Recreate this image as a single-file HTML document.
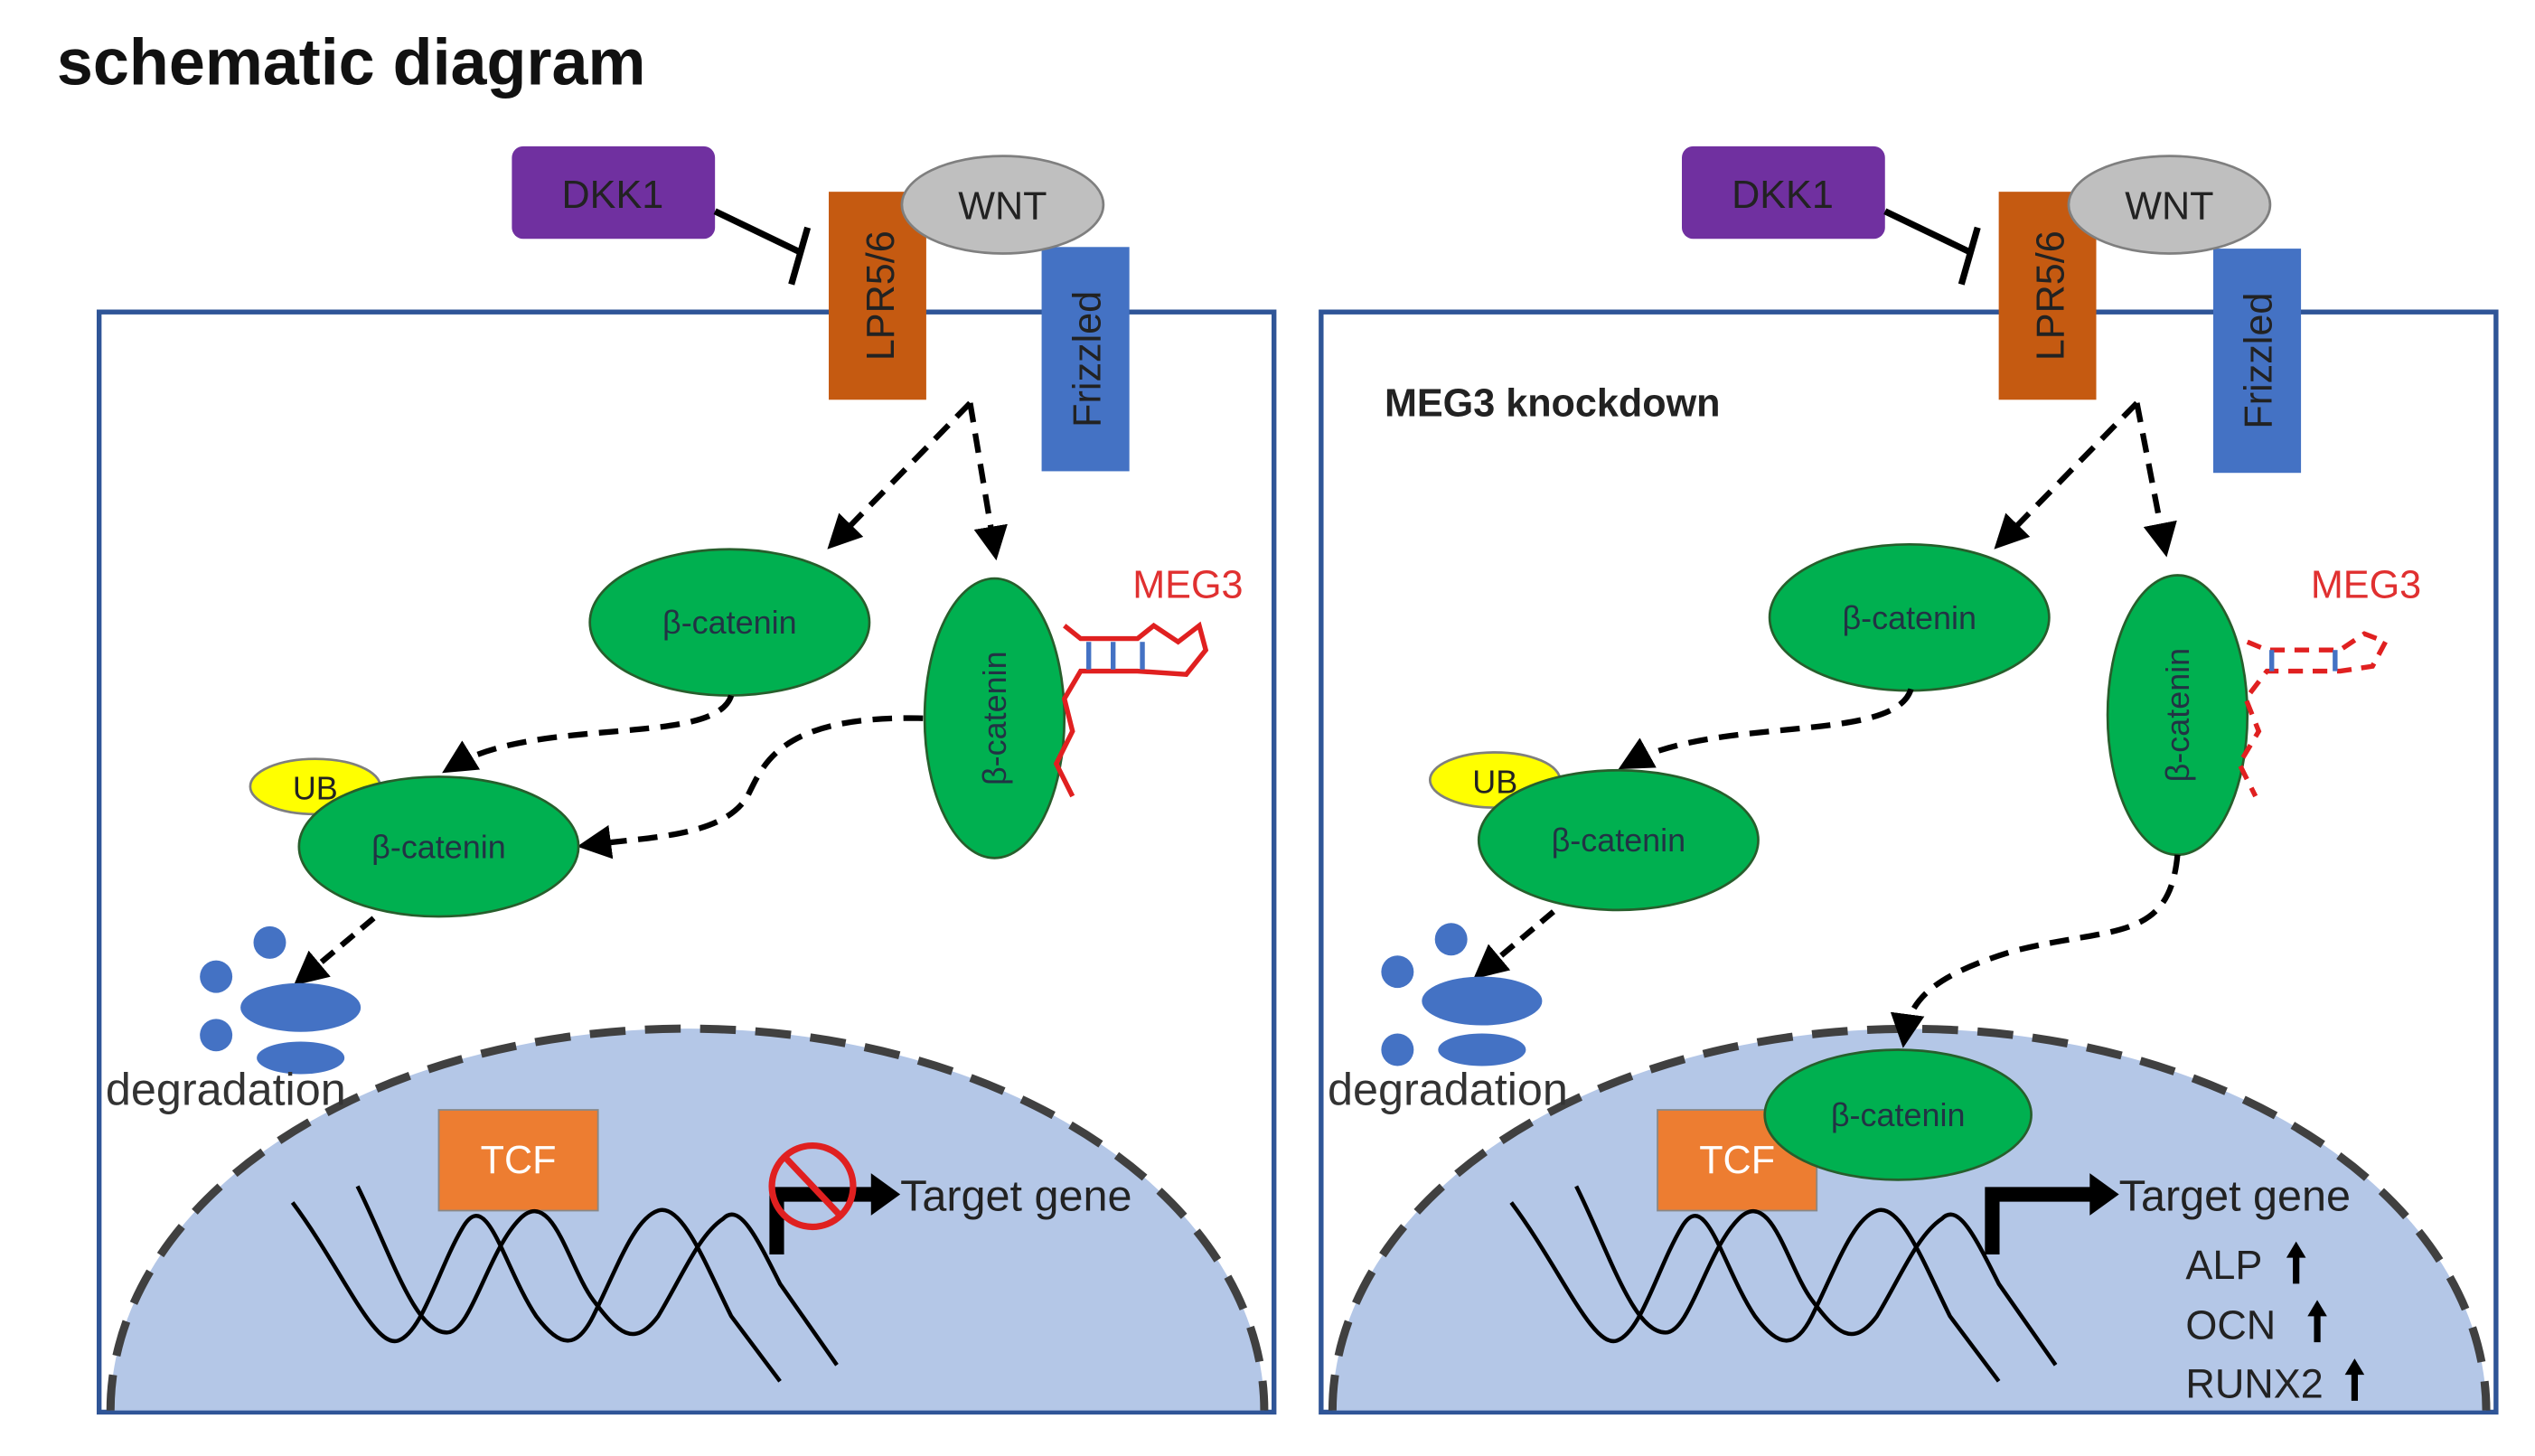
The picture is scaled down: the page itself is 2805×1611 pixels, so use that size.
<!DOCTYPE html>
<html><head><meta charset="utf-8"><style>
html,body{margin:0;padding:0;background:#fff;}
svg{display:block;}
text{font-family:"Liberation Sans","DejaVu Sans",sans-serif;}
</style></head><body>
<svg width="2805" height="1611" viewBox="0 0 1560 896" preserveAspectRatio="none" xmlns="http://www.w3.org/2000/svg">
<defs>
<marker id="ah" markerWidth="6" markerHeight="6" refX="4" refY="3" orient="auto" markerUnits="strokeWidth"><path d="M0,0 L6,3 L0,6 Z" fill="#000"/></marker>
<g id="dna" fill="none" stroke="#000" stroke-width="2.5">
<path d="M0,0 C30,40 50,90 65,85 C80,80 90,40 105,15 C120,-10 130,40 150,70 C165,90 175,90 185,70 C200,40 210,10 225,5 C240,0 255,40 270,70 L300,110"/>
<path d="M40,-10 C60,30 75,80 95,80 C110,80 120,30 140,10 C160,-10 170,40 185,60 C200,80 210,90 225,70 C240,45 250,20 265,10 C275,0 285,20 300,50 L335,100"/>
</g>
</defs>
<text x="35" y="52" font-size="40" font-weight="600" fill="#111">schematic diagram</text>

<rect x="61" y="192" width="723" height="677" fill="none" stroke="#2f5597" stroke-width="3"/>
<path d="M68,868 A355,235 0 0 1 778,868 Z" fill="#b4c7e7"/>
<path d="M68,868 A355,235 0 0 1 778,868" fill="none" stroke="#404040" stroke-width="5" stroke-dasharray="22,12"/>
<rect x="315" y="90" width="125" height="57" rx="7" fill="#7030a0"/>
<text x="377" y="128" font-size="24" text-anchor="middle" fill="#222">DKK1</text>
<line x1="440" y1="130" x2="492" y2="155" stroke="#000" stroke-width="4"/>
<line x1="497" y1="140" x2="487" y2="175" stroke="#000" stroke-width="4"/>
<rect x="510" y="118" width="60" height="128" fill="#c55a11"/>
<text transform="translate(550,182) rotate(-90)" font-size="24" text-anchor="middle" fill="#222">LPR5/6</text>
<rect x="641" y="152" width="54" height="138" fill="#4472c4"/>
<text transform="translate(677,221) rotate(-90)" font-size="24" text-anchor="middle" fill="#222">Frizzled</text>
<ellipse cx="617" cy="126" rx="62" ry="30" fill="#bfbfbf" stroke="#7f7f7f" stroke-width="1.5"/>
<text x="617" y="135" font-size="24" text-anchor="middle" fill="#222">WNT</text>
<path d="M597,248 L514,333" stroke="#000" stroke-width="3.5" stroke-dasharray="12,7" fill="none" marker-end="url(#ah)"/>
<path d="M597,248 L612,338" stroke="#000" stroke-width="3.5" stroke-dasharray="12,7" fill="none" marker-end="url(#ah)"/>
<ellipse cx="449" cy="383" rx="86" ry="45" fill="#00b050" stroke="#275e2c" stroke-width="1.5"/>
<text x="449" y="390" font-size="20" text-anchor="middle" fill="#234">β-catenin</text>
<ellipse cx="612" cy="442" rx="43" ry="86" fill="#00b050" stroke="#275e2c" stroke-width="1.5"/>
<text transform="translate(619,442) rotate(-90)" font-size="20" text-anchor="middle" fill="#234">β-catenin</text>
<text x="697" y="368" font-size="24" fill="#e03030">MEG3</text>
<path d="M655,385 L665,393 L700,393 L710,385 L725,395 L738,385 L742,400 L730,415 L700,413 L680,413 L665,413 L655,430 L660,450 L650,470 L660,490" fill="none" stroke="#e02020" stroke-width="3"/>
<g stroke="#4472c4" stroke-width="3"><line x1="670" y1="395" x2="670" y2="412"/><line x1="685" y1="395" x2="685" y2="412"/><line x1="703" y1="395" x2="703" y2="412"/></g>
<path d="M450,428 C440,460 330,440 278,472" stroke="#000" stroke-width="3.5" stroke-dasharray="12,7" fill="none" marker-end="url(#ah)"/>
<path d="M568,442 C480,440 470,470 460,490 C445,515 400,515 362,520" stroke="#000" stroke-width="3.5" stroke-dasharray="12,7" fill="none" marker-end="url(#ah)"/>
<ellipse cx="194" cy="484" rx="40" ry="17" fill="#ffff00" stroke="#7f7f7f" stroke-width="1.5"/>
<text x="194" y="492" font-size="20" text-anchor="middle" fill="#222">UB</text>
<ellipse cx="270" cy="521" rx="86" ry="43" fill="#00b050" stroke="#275e2c" stroke-width="1.5"/>
<text x="270" y="528" font-size="20" text-anchor="middle" fill="#234">β-catenin</text>
<path d="M230,565 L186,602" stroke="#000" stroke-width="3.5" stroke-dasharray="10,6" fill="none" marker-end="url(#ah)"/>
<g fill="#4472c4"><circle cx="166" cy="580" r="10"/><circle cx="133" cy="601" r="10"/><circle cx="133" cy="637" r="10"/><ellipse cx="185" cy="620" rx="37" ry="15"/><ellipse cx="185" cy="651" rx="27" ry="10"/></g>
<text x="65" y="680" font-size="28" fill="#333">degradation</text>
<rect x="270" y="683" width="98" height="62" fill="#ed7d31" stroke="#888" stroke-width="1"/>
<text x="319" y="722" font-size="24" text-anchor="middle" fill="#fff">TCF</text>
<use href="#dna" x="180" y="740"/>
<path d="M478,772 L478,735 L540,735" fill="none" stroke="#000" stroke-width="9"/>
<path d="M536,722 L554,735 L536,748 Z" fill="#000"/>
<circle cx="500" cy="730" r="25" fill="none" stroke="#e02020" stroke-width="4"/>
<line x1="483" y1="712" x2="517" y2="748" stroke="#e02020" stroke-width="4"/>
<text x="554" y="745" font-size="27" fill="#222">Target gene</text>

<rect x="813" y="192" width="723" height="677" fill="none" stroke="#2f5597" stroke-width="3"/>
<path d="M820,868 A355,235 0 0 1 1530,868 Z" fill="#b4c7e7"/>
<path d="M820,868 A355,235 0 0 1 1530,868" fill="none" stroke="#404040" stroke-width="5" stroke-dasharray="22,12"/>
<rect x="1035" y="90" width="125" height="57" rx="7" fill="#7030a0"/>
<text x="1097" y="128" font-size="24" text-anchor="middle" fill="#222">DKK1</text>
<line x1="1160" y1="130" x2="1212" y2="155" stroke="#000" stroke-width="4"/>
<line x1="1217" y1="140" x2="1207" y2="175" stroke="#000" stroke-width="4"/>
<rect x="1230" y="118" width="60" height="128" fill="#c55a11"/>
<text transform="translate(1270,182) rotate(-90)" font-size="24" text-anchor="middle" fill="#222">LPR5/6</text>
<rect x="1362" y="153" width="54" height="138" fill="#4472c4"/>
<text transform="translate(1398,222) rotate(-90)" font-size="24" text-anchor="middle" fill="#222">Frizzled</text>
<ellipse cx="1335" cy="126" rx="62" ry="30" fill="#bfbfbf" stroke="#7f7f7f" stroke-width="1.5"/>
<text x="1335" y="135" font-size="24" text-anchor="middle" fill="#222">WNT</text>
<text x="852" y="256" font-size="24" font-weight="bold" fill="#222">MEG3 knockdown</text>
<path d="M1315,248 L1232,333" stroke="#000" stroke-width="3.5" stroke-dasharray="12,7" fill="none" marker-end="url(#ah)"/>
<path d="M1315,248 L1332,336" stroke="#000" stroke-width="3.5" stroke-dasharray="12,7" fill="none" marker-end="url(#ah)"/>
<ellipse cx="1175" cy="380" rx="86" ry="45" fill="#00b050" stroke="#275e2c" stroke-width="1.5"/>
<text x="1175" y="387" font-size="20" text-anchor="middle" fill="#234">β-catenin</text>
<ellipse cx="1340" cy="440" rx="43" ry="86" fill="#00b050" stroke="#275e2c" stroke-width="1.5"/>
<text transform="translate(1347,440) rotate(-90)" font-size="20" text-anchor="middle" fill="#234">β-catenin</text>
<text x="1422" y="368" font-size="24" fill="#e03030">MEG3</text>
<path d="M1383,395 L1395,400 L1440,400 L1455,390 L1468,395 L1460,410 L1440,413 L1395,413 L1382,430 L1390,450 L1378,470 L1388,490" fill="none" stroke="#e02020" stroke-width="3" stroke-dasharray="9,6"/>
<g stroke="#4472c4" stroke-width="3"><line x1="1398" y1="400" x2="1398" y2="413"/><line x1="1437" y1="400" x2="1437" y2="413"/></g>
<path d="M1176,424 C1166,458 1056,440 1002,470" stroke="#000" stroke-width="3.5" stroke-dasharray="12,7" fill="none" marker-end="url(#ah)"/>
<path d="M1340,526 C1335,580 1300,570 1240,585 C1190,600 1175,615 1172,638" stroke="#000" stroke-width="3.5" stroke-dasharray="12,7" fill="none" marker-end="url(#ah)"/>
<ellipse cx="920" cy="480" rx="40" ry="17" fill="#ffff00" stroke="#7f7f7f" stroke-width="1.5"/>
<text x="920" y="488" font-size="20" text-anchor="middle" fill="#222">UB</text>
<ellipse cx="996" cy="517" rx="86" ry="43" fill="#00b050" stroke="#275e2c" stroke-width="1.5"/>
<text x="996" y="524" font-size="20" text-anchor="middle" fill="#234">β-catenin</text>
<path d="M956,561 L912,598" stroke="#000" stroke-width="3.5" stroke-dasharray="10,6" fill="none" marker-end="url(#ah)"/>
<g fill="#4472c4"><circle cx="893" cy="578" r="10"/><circle cx="860" cy="598" r="10"/><circle cx="860" cy="646" r="10"/><ellipse cx="912" cy="616" rx="37" ry="15"/><ellipse cx="912" cy="646" rx="27" ry="10"/></g>
<text x="817" y="680" font-size="28" fill="#333">degradation</text>
<rect x="1020" y="683" width="98" height="62" fill="#ed7d31" stroke="#888" stroke-width="1"/>
<text x="1069" y="722" font-size="24" text-anchor="middle" fill="#fff">TCF</text>
<ellipse cx="1168" cy="686" rx="82" ry="40" fill="#00b050" stroke="#275e2c" stroke-width="1.5"/>
<text x="1168" y="693" font-size="20" text-anchor="middle" fill="#234">β-catenin</text>
<use href="#dna" x="930" y="740"/>
<path d="M1226,772 L1226,735 L1290,735" fill="none" stroke="#000" stroke-width="9"/>
<path d="M1286,722 L1304,735 L1286,748 Z" fill="#000"/>
<text x="1304" y="745" font-size="27" fill="#222">Target gene</text>
<text x="1345" y="787" font-size="25" fill="#222">ALP</text>
<text x="1345" y="824" font-size="25" fill="#222">OCN</text>
<text x="1345" y="860" font-size="25" fill="#222">RUNX2</text>
<g stroke="#000" stroke-width="4"><line x1="1413" y1="790" x2="1413" y2="772"/><line x1="1426" y1="826" x2="1426" y2="808"/><line x1="1449" y1="862" x2="1449" y2="844"/></g>
<g fill="#000"><path d="M1407,774 L1413,764 L1419,774Z"/><path d="M1420,810 L1426,800 L1432,810Z"/><path d="M1443,846 L1449,836 L1455,846Z"/></g>
</svg>
</body></html>
